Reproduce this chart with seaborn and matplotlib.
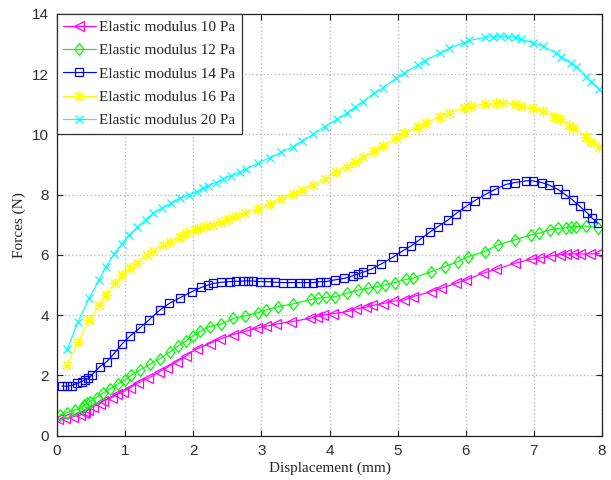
import matplotlib
matplotlib.use("Agg")
import matplotlib.pyplot as plt
import seaborn as sns
import pandas as pd

# ---------------- data ----------------
labels = ["Elastic modulus 10 Pa", "Elastic modulus 12 Pa", "Elastic modulus 14 Pa",
          "Elastic modulus 16 Pa", "Elastic modulus 20 Pa"]

x10 = [0.02,0.12,0.24,0.34,0.39,0.41,0.46,0.53,0.63,0.68,0.80,0.88,0.97,1.07,1.19,1.34,1.49,1.61,1.76,1.90,
       2.05,2.24,2.39,2.58,2.76,2.93,3.07,3.22,3.44,3.71,3.81,3.90,4.05,4.25,4.39,4.54,4.63,4.78,4.93,5.10,
       5.22,5.49,5.64,5.86,6.01,6.25,6.45,6.72,6.96,7.08,7.23,7.38,7.47,7.57,7.67,7.82,7.96]
y10 = [0.54,0.57,0.62,0.68,0.74,0.79,0.85,0.96,1.05,1.15,1.25,1.37,1.45,1.58,1.75,1.90,2.10,2.25,2.45,2.65,
       2.88,3.05,3.20,3.35,3.46,3.56,3.63,3.70,3.78,3.89,3.95,4.00,4.05,4.11,4.20,4.27,4.32,4.38,4.46,4.50,
       4.61,4.78,4.89,5.06,5.17,5.39,5.52,5.72,5.85,5.89,5.96,6.00,6.03,6.03,6.03,6.03,6.05]

x12 = [0.04,0.14,0.26,0.36,0.39,0.44,0.48,0.58,0.68,0.78,0.90,1.00,1.09,1.22,1.36,1.51,1.66,1.78,1.90,2.00,
       2.10,2.24,2.41,2.59,2.76,2.95,3.07,3.25,3.46,3.73,3.83,3.95,4.08,4.25,4.42,4.56,4.69,4.81,4.96,5.13,
       5.22,5.49,5.69,5.88,6.03,6.28,6.47,6.72,6.96,7.08,7.23,7.35,7.47,7.55,7.62,7.77,7.94]
y12 = [0.68,0.76,0.85,0.92,1.01,1.07,1.12,1.26,1.42,1.55,1.72,1.85,2.00,2.18,2.36,2.55,2.78,2.98,3.15,3.32,
       3.46,3.62,3.70,3.89,3.97,4.08,4.17,4.28,4.37,4.52,4.56,4.59,4.61,4.72,4.83,4.89,4.94,5.00,5.08,5.19,
       5.22,5.44,5.61,5.77,5.94,6.11,6.33,6.50,6.66,6.72,6.83,6.88,6.90,6.94,6.94,6.96,6.90]

x14 = [0.07,0.14,0.22,0.29,0.36,0.41,0.46,0.51,0.63,0.73,0.83,0.95,1.07,1.22,1.35,1.51,1.65,1.80,1.98,2.12,
       2.22,2.29,2.41,2.54,2.63,2.73,2.80,2.88,2.98,3.10,3.20,3.32,3.44,3.56,3.66,3.76,3.86,3.95,4.08,4.22,
       4.34,4.42,4.49,4.61,4.76,4.93,5.08,5.20,5.32,5.47,5.59,5.74,5.85,6.01,6.13,6.30,6.42,6.59,6.72,6.89,
       6.98,7.12,7.22,7.35,7.45,7.57,7.67,7.78,7.86,7.94]
y14 = [1.64,1.64,1.66,1.73,1.79,1.84,1.90,2.01,2.29,2.45,2.70,3.03,3.30,3.58,3.84,4.17,4.39,4.57,4.78,4.92,
       5.00,5.05,5.09,5.11,5.12,5.13,5.14,5.13,5.11,5.11,5.09,5.08,5.08,5.08,5.08,5.08,5.11,5.11,5.17,5.22,
       5.30,5.37,5.42,5.52,5.70,5.92,6.14,6.30,6.50,6.75,6.94,7.16,7.36,7.62,7.80,8.02,8.16,8.34,8.40,8.46,
       8.46,8.40,8.32,8.18,8.02,7.82,7.62,7.40,7.21,7.05]

x16 = [0.15,0.31,0.47,0.62,0.72,0.85,0.95,1.07,1.17,1.32,1.41,1.56,1.66,1.80,1.90,2.02,2.10,2.19,2.29,2.41,
       2.51,2.63,2.76,2.95,3.12,3.29,3.46,3.59,3.76,3.93,4.10,4.25,4.37,4.49,4.66,4.79,4.98,5.10,5.30,5.42,
       5.62,5.76,5.98,6.08,6.28,6.45,6.54,6.72,6.81,6.98,7.13,7.30,7.38,7.52,7.57,7.77,7.84,7.96]
y16 = [2.34,3.12,3.82,4.32,4.68,5.05,5.33,5.55,5.74,6.00,6.14,6.33,6.44,6.60,6.74,6.83,6.88,6.96,6.99,7.10,
       7.18,7.28,7.39,7.52,7.69,7.85,8.01,8.16,8.32,8.52,8.74,8.93,9.07,9.24,9.46,9.62,9.87,10.04,10.26,10.38,
       10.59,10.72,10.87,10.95,11.00,11.03,11.06,11.01,10.95,10.87,10.78,10.59,10.50,10.32,10.21,9.93,9.76,9.59]

x20 = [0.15,0.31,0.47,0.62,0.72,0.84,0.95,1.06,1.18,1.30,1.41,1.54,1.68,1.80,1.94,2.05,2.15,2.22,2.34,2.44,
       2.56,2.68,2.78,2.95,3.12,3.29,3.46,3.60,3.76,3.93,4.11,4.25,4.37,4.49,4.66,4.79,4.98,5.10,5.30,5.40,
       5.62,5.76,5.98,6.05,6.28,6.40,6.50,6.62,6.72,6.81,6.98,7.13,7.33,7.40,7.55,7.62,7.77,7.84,7.96]
y20 = [2.86,3.78,4.56,5.17,5.61,6.03,6.36,6.66,6.92,7.16,7.38,7.55,7.71,7.88,7.99,8.10,8.21,8.30,8.40,8.52,
       8.63,8.74,8.86,9.04,9.23,9.40,9.59,9.79,10.00,10.26,10.50,10.70,10.90,11.09,11.37,11.55,11.87,12.04,12.31,12.45,
       12.70,12.86,13.05,13.12,13.22,13.25,13.27,13.25,13.22,13.16,13.05,12.94,12.70,12.58,12.36,12.25,11.92,11.75,11.50]

xticks = [0, 1, 2, 3, 4, 5, 6, 7, 8]
yticks = [0, 2, 4, 6, 8, 10, 12, 14]

# ---------------- style ----------------
sns.set_style("ticks")
plt.rcParams["font.family"] = ["Liberation Sans", "DejaVu Sans"]
serif = ["Liberation Serif", "DejaVu Serif"]

diamond = [(0, 1), (0.78, 0), (0, -1), (-0.78, 0), (0, 1)]
series = [
    (x10, y10, labels[0], "#ff00ff", "<", 7.5),
    (x12, y12, labels[1], "#00ff00", diamond, 8.5),
    (x14, y14, labels[2], "#0000ff", "s", 6.0),
    (x16, y16, labels[3], "#ffff00", (8, 2, 0), 8.0),
    (x20, y20, labels[4], "#00ffff", "x", 6.0),
]

fig = plt.figure(figsize=(6.11, 4.80), dpi=100)
ax = fig.add_axes([57 / 611, (480 - 435.5) / 480, (602 - 57) / 611, (435.5 - 14) / 480])

for xs, ys, lab, col, mk, ms in series:
    df = pd.DataFrame({"x": xs, "y": ys})
    sns.lineplot(data=df, x="x", y="y", ax=ax, color=col, label=lab,
                 estimator=None, sort=False, lw=0.85,
                 marker=mk, markersize=ms, mfc="none", mec=col, mew=0.9)

ax.set_xlim(0, 8)
ax.set_ylim(0, 14)
ax.set_xticks(xticks)
ax.set_yticks(yticks)
ax.set_xticklabels([str(v) for v in xticks])
ax.set_yticklabels([str(v) for v in yticks])
ax.tick_params(direction="in", length=4, width=0.8, top=True, right=True,
               labelsize=11, colors="#222222", labelcolor="#303030", pad=6)
for s in ax.spines.values():
    s.set_visible(True)
    s.set_color("#222222")
    s.set_linewidth(0.9)

ax.grid(True, linestyle=":", color="#bdbdbd", linewidth=1.0)
ax.set_axisbelow(True)

ax.set_xlabel("Displacement (mm)", fontsize=11, family=serif, color="#262626", labelpad=3)
ax.set_ylabel("Forces (N)", fontsize=11, family=serif, color="#262626", labelpad=4)

leg = ax.legend(loc="upper left", bbox_to_anchor=(0, 1), borderaxespad=0,
                fancybox=False, framealpha=1, edgecolor="#333333",
                prop={"family": serif, "size": 11}, handlelength=2.1,
                handletextpad=0.25, labelspacing=0.63, borderpad=0.42)
leg.get_frame().set_linewidth(0.9)

fig.savefig("out.png", dpi=100)
